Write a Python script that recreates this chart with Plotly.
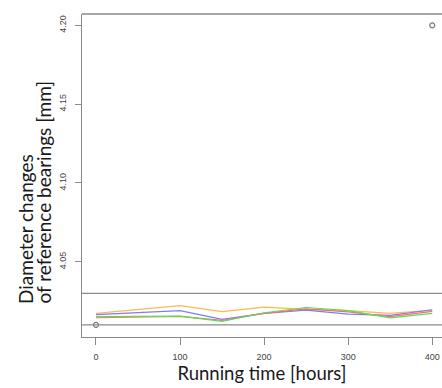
import plotly.graph_objects as go

hours = [0, 100, 150, 200, 250, 300, 350, 400]
orange = [4.0173, 4.0222, 4.0184, 4.0212, 4.0198, 4.0190, 4.0173, 4.0194]
blue = [4.0165, 4.0190, 4.0135, 4.0173, 4.0194, 4.0168, 4.0160, 4.0196]
red = [4.0145, 4.0154, 4.0128, 4.0173, 4.0201, 4.0182, 4.0152, 4.0186]
green = [4.0152, 4.0156, 4.0122, 4.0177, 4.0210, 4.0190, 4.0144, 4.0173]
point_x = [0, 400]
point_y = [4.01, 4.20]
hlines = [4.03, 4.01]
x_ticks = [0, 100, 200, 300, 400]
y_ticks = [4.05, 4.10, 4.15, 4.20]
y_tick_text = ["4.05", "4.10", "4.15", "4.20"]
y_title_lines = ["Diameter changes", "of reference bearings [mm]"]

fig = go.Figure()
series = [("orange", orange, "#FFB84D"), ("blue", blue, "#7B7BFF"),
          ("red", red, "#FF6A6A"), ("green", green, "#55E055")]
for name, vals, col in series:
    fig.add_trace(go.Scatter(x=hours, y=vals, mode="lines", name=name,
                             line=dict(color=col, width=1.2)))
fig.add_trace(go.Scatter(x=point_x, y=point_y, mode="markers",
                         marker=dict(symbol="circle-open", size=5,
                                     color="#777777", line=dict(width=1.2))))

for h in hlines:
    fig.add_shape(type="line", xref="paper", x0=0, x1=1, yref="y", y0=h, y1=h,
                  line=dict(color="#8a8a8a", width=1.3))
fig.add_shape(type="line", xref="paper", x0=0, x1=1, yref="paper", y0=1, y1=1,
              line=dict(color="#8a8a8a", width=1.3))

for px_x, line in zip([25, 43], y_title_lines):
    fig.add_annotation(text=line, xref="paper", yref="paper",
                       x=(px_x - 82) / 360, y=(337 - 306) / 323,
                       xanchor="center", yanchor="bottom", textangle=-90,
                       showarrow=False,
                       font=dict(family="Lato", size=19, color="#1a1a1a"))

fig.update_layout(
    width=442, height=388, showlegend=False,
    margin=dict(l=82, r=0, t=14, b=51, autoexpand=False),
    plot_bgcolor="white", paper_bgcolor="white",
    xaxis=dict(range=[-16.6, 411.6], tickvals=x_ticks, ticks="outside", ticklen=7,
               tickcolor="#8a8a8a", showline=True, linecolor="#8a8a8a", linewidth=1.3,
               showgrid=False, zeroline=False, ticklabelstandoff=4,
               tickfont=dict(family="Liberation Sans", size=9, color="#444444"),
               title=dict(text="Running time [hours]", standoff=5,
                          font=dict(family="Lato", size=18.5, color="#1a1a1a"))),
    yaxis=dict(range=[4.0023, 4.2072], tickvals=y_ticks, ticktext=y_tick_text,
               ticks="outside", ticklen=6, tickcolor="#8a8a8a", tickangle=-90,
               showline=True, linecolor="#8a8a8a", linewidth=1.3,
               showgrid=False, zeroline=False, ticklabelstandoff=5,
               tickfont=dict(family="Liberation Sans", size=9, color="#444444")),
)
fig.write_html("out.html")
